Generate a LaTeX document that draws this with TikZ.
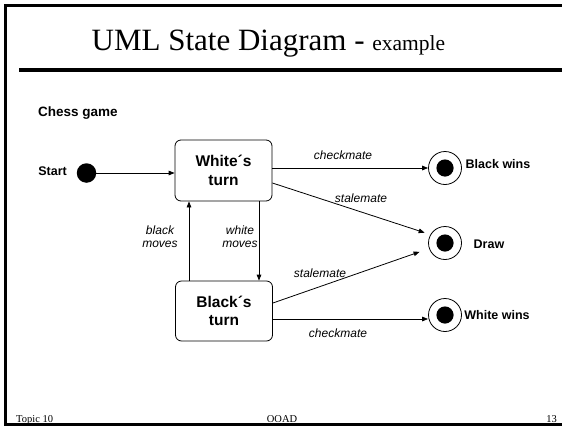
\documentclass[tikz,border=0pt]{standalone}
\usepackage{fontspec}
\setmainfont{Liberation Serif}
\newfontfamily\arialfont{Liberation Sans}
\usetikzlibrary{arrows.meta}

\tikzset{
  statebox/.style={draw, line width=0.8pt, rounded corners=6pt,
    minimum width=97pt, minimum height=61pt, inner sep=0pt,
    align=center, font=\arialfont\fontsize{15.5}{18.5}\selectfont\bfseries},
  initdot/.style={circle, fill=black, minimum size=19.5pt, inner sep=0pt},
  finalstate/.style={circle, draw, line width=0.8pt, minimum size=33pt, inner sep=0pt,
    path picture={\fill[black] (path picture bounding box.center) circle (8.6pt);}},
  statename/.style={font=\arialfont\fontsize{12.5}{14}\selectfont\bfseries, inner sep=0pt},
  evlabel/.style={font=\arialfont\fontsize{12}{13}\selectfont\itshape, inner sep=0pt, align=center},
  trans/.style={line width=0.8pt, -{Triangle[length=6pt,width=4.6pt]}},
  foot/.style={font=\fontsize{10.5}{12}\selectfont, inner sep=0pt}
}

\begin{document}
\begin{tikzpicture}[x=1pt, y=-1pt]
  \useasboundingbox (0,0) rectangle (562,426);
  \clip (0,0) rectangle (562,426);

  % slide frame and title rule
  \draw[line width=2.6pt] (5.3,5.3) rectangle (575,424.6);
  \draw[line width=4.6pt] (19,70) -- (575,70);

  % title
  \node[anchor=base west, inner sep=0pt, font=\fontsize{31}{36}\selectfont] (title) at (91.5,50)
    {UML State Diagram - {\fontsize{21.5}{24}\selectfont example}};

  \node[anchor=west, statename, font=\arialfont\fontsize{13.5}{15}\selectfont\bfseries] (chess) at (38,113) {Chess game};

  % states
  \node[initdot] (start) at (86.5,173) {};
  \node[statename, anchor=east] (startlbl) at (67,171) {Start};
  \node[statebox] (wt) at (223.5,170.5) {White´s\\turn};
  \node[statebox, minimum height=60pt] (bt) at (224,311) {Black´s\\turn};
  \node[finalstate] (bwin) at (445,168) {};
  \node[finalstate] (draw) at (445,243) {};
  \node[finalstate] (wwin) at (445,315) {};
  \node[statename] (bwinlbl) at (498,164) {Black wins};
  \node[statename] (drawlbl) at (489,244) {Draw};
  \node[statename] (wwinlbl) at (497,315) {White wins};

  % transitions
  \draw[trans] (start) -- (wt.west |- start);
  \draw[trans] ([xshift=35.5pt]wt.south) -- ([xshift=35pt]bt.north);
  \draw[trans] ([xshift=-35pt]bt.north) -- ([xshift=-34.5pt]wt.south);
  \draw[trans] (wt.east |- bwin) -- (bwin);
  \draw[trans, shorten >=6pt] ([yshift=-12.5pt]wt.east) -- (draw.150);
  \draw[trans, shorten >=10pt] ([yshift=8pt]bt.east) -- (draw);
  \draw[trans] (bt.east |- 0,319) -- (wwin.west |- 0,319);

  % event labels
  \node[evlabel] (l1) at (343,155) {checkmate};
  \node[evlabel] (l2) at (361,198) {stalemate};
  \node[evlabel] (l3) at (320,273) {stalemate};
  \node[evlabel] (l4) at (338,333) {checkmate};
  \node[evlabel] (l5) at (160,236.5) {black\\moves};
  \node[evlabel] (l6) at (240,236.5) {white\\moves};

  % footer
  \node[foot, anchor=base west] (f1) at (16,422) {Topic 10};
  \node[foot, anchor=base] (f2) at (282,422) {OOAD};
  \node[foot, anchor=base east] (f3) at (557,422) {13};
\end{tikzpicture}
\end{document}
